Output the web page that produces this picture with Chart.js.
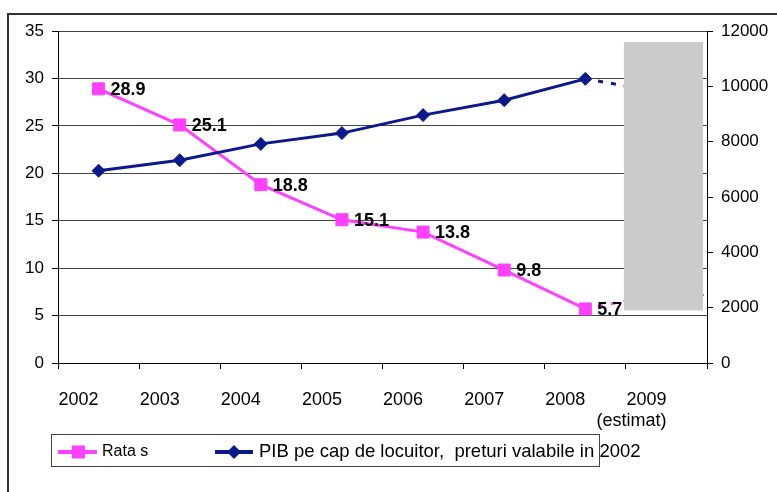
<!DOCTYPE html>
<html>
<head>
<meta charset="utf-8">
<script src="https://cdn.jsdelivr.net/npm/chart.js@4.4.1/dist/chart.umd.min.js"></script>
<style>
  html, body { margin: 0; padding: 0; background: #fff; }
  #wrap { position: relative; width: 777px; height: 492px; overflow: hidden; }
  #frame { position: absolute; left: 7px; top: 13px; right: -5px; bottom: -5px;
           border-left: 2px solid #333; border-top: 2px solid #333; }
  #chart { position: absolute; left: 0; top: 0; }
</style>
</head>
<body>
<div id="wrap">
  <div id="frame"></div>
  <canvas id="chart" width="777" height="492"></canvas>
</div>
<script>
// data
const years = ['2002', '2003', '2004', '2005', '2006', '2007', '2008', ['2009', '(estimat)']];
const rataValues = [28.9, 25.1, 18.8, 15.1, 13.8, 9.8, 5.7, 7.4];
const pibValues = [6950, 7330, 7920, 8310, 8960, 9500, 10270, 9760];
const legendLabels = ['Rata s', 'PIB pe cap de locuitor,  preturi valabile in 2002'];

const FONT = 'Arial, "Liberation Sans", sans-serif';
const PINK = '#ff40ff';
const NAVY = '#0a1a8c';

Chart.defaults.font.family = FONT;
Chart.defaults.color = '#000';

// last segment (2008 -> 2009 estimate) is dashed
const dashLast = ctx => ctx.p1DataIndex === years.length - 1 ? [5, 8] : undefined;

const extras = {
  id: 'extras',
  afterDatasetsDraw(chart) {
    const ctx = chart.ctx;
    const meta = chart.getDatasetMeta(0);
    ctx.save();
    ctx.font = 'bold 18px ' + FONT;
    ctx.fillStyle = '#000';
    ctx.textBaseline = 'middle';
    meta.data.forEach((pt, i) => {
      ctx.fillText(rataValues[i].toFixed(1), pt.x + 12, pt.y + 1);
    });
    ctx.restore();
  },
  afterDraw(chart) {
    const ctx = chart.ctx;
    const x = chart.scales.x, y1 = chart.scales.y1;
    const area = chart.chartArea;

    // grey block hiding the 2009 estimate
    const left = (x.getPixelForValue(6) + x.getPixelForValue(7)) / 2 - 2;
    const right = area.right - 4;
    const top = y1.getPixelForValue(11600);
    const bottom = y1.getPixelForValue(1900);
    ctx.save();
    ctx.fillStyle = '#cbcbcb';
    ctx.fillRect(left, top, right - left, bottom - top);

    // legend
    ctx.strokeStyle = '#444';
    ctx.lineWidth = 1;
    ctx.strokeRect(51.5, 434.5, 548, 32);
    const ly = 452;
    const ds = chart.data.datasets;

    ctx.strokeStyle = ds[0].borderColor;
    ctx.lineWidth = 4;
    ctx.beginPath(); ctx.moveTo(58, ly); ctx.lineTo(97, ly); ctx.stroke();
    ctx.fillStyle = ds[0].borderColor;
    ctx.fillRect(72, ly - 6.5, 13, 13);

    ctx.strokeStyle = ds[1].borderColor;
    ctx.beginPath(); ctx.moveTo(215, ly); ctx.lineTo(253, ly); ctx.stroke();
    ctx.fillStyle = ds[1].borderColor;
    ctx.beginPath();
    ctx.moveTo(234, ly - 7); ctx.lineTo(241, ly); ctx.lineTo(234, ly + 7); ctx.lineTo(227, ly);
    ctx.closePath(); ctx.fill();

    ctx.fillStyle = '#000';
    ctx.textBaseline = 'middle';
    ctx.font = '16px ' + FONT;
    ctx.fillText(legendLabels[0], 102, ly);
    ctx.font = '18.5px ' + FONT;
    ctx.fillText(legendLabels[1], 259, ly);
    ctx.restore();
  }
};

new Chart(document.getElementById('chart').getContext('2d'), {
  type: 'line',
  data: {
    labels: years,
    datasets: [
      {
        label: legendLabels[0],
        data: rataValues,
        yAxisID: 'y',
        borderColor: PINK,
        backgroundColor: PINK,
        borderWidth: 3,
        pointStyle: 'rect',
        pointRadius: 8.5,
        pointBorderWidth: 1,
        tension: 0,
        order: 1,
        segment: { borderDash: dashLast }
      },
      {
        label: legendLabels[1],
        data: pibValues,
        yAxisID: 'y1',
        borderColor: NAVY,
        backgroundColor: NAVY,
        borderWidth: 3,
        pointStyle: 'rectRot',
        pointRadius: 6.5,
        pointBorderWidth: 1,
        tension: 0,
        order: 0,
        segment: { borderDash: dashLast }
      }
    ]
  },
  options: {
    responsive: false,
    animation: false,
    devicePixelRatio: 1,
    layout: { padding: { top: 31, bottom: 39, left: 0, right: 0 } },
    plugins: {
      legend: { display: false },
      tooltip: { enabled: false }
    },
    scales: {
      x: {
        type: 'category',
        offset: true,
        grid: { offset: true, drawOnChartArea: false, tickLength: 6, color: '#000' },
        border: { color: '#000' },
        ticks: {
          align: 'end', padding: 21, maxRotation: 0, autoSkip: false,
          font: { size: 18, lineHeight: 1.15 }
        },
        afterFit: s => { s.height = 90; }
      },
      y: {
        position: 'left',
        min: 0, max: 35,
        ticks: { stepSize: 5, padding: 8, font: { size: 17 } },
        grid: { color: '#444', tickColor: '#000', tickLength: 6 },
        border: { color: '#000' },
        afterFit: s => { s.width = 58; }
      },
      y1: {
        position: 'right',
        min: 0, max: 12000,
        ticks: { stepSize: 2000, padding: 8, font: { size: 17 }, callback: v => String(v) },
        grid: { drawOnChartArea: false, color: '#000', tickLength: 6 },
        border: { color: '#000' },
        afterFit: s => { s.width = 70; }
      }
    }
  },
  plugins: [extras]
});
</script>
</body>
</html>
